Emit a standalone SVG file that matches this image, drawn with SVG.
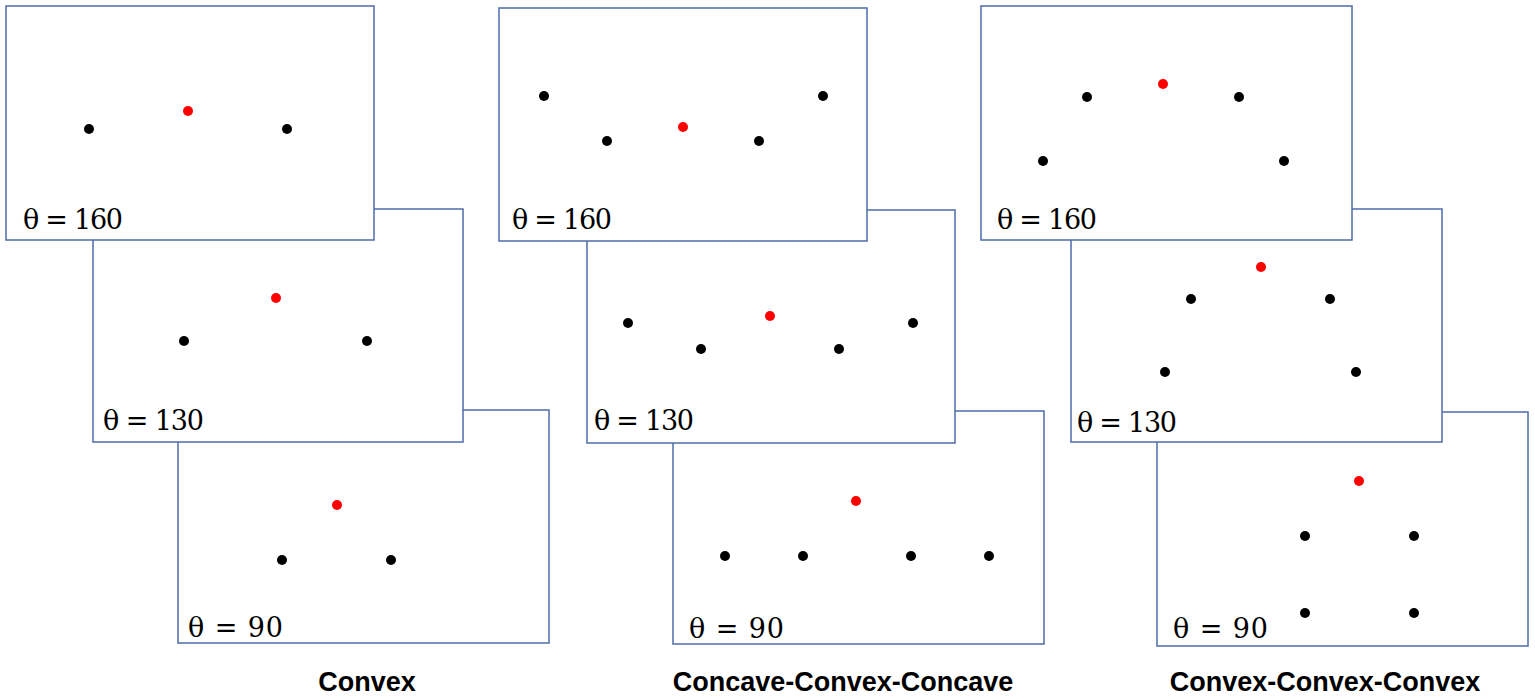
<svg xmlns="http://www.w3.org/2000/svg" width="1535" height="699" viewBox="0 0 1535 699">
<style>
.box{fill:#fff;stroke:#4e6cab;stroke-width:1.5}
.k{fill:#000}
.r{fill:#f00}
.th{font-family:"DejaVu Serif","Liberation Serif",serif;font-size:27px;fill:#000}
.tt{font-family:"Liberation Sans",Arial,sans-serif;font-size:27px;font-weight:bold;fill:#000;text-anchor:middle}
</style>
<rect width="1535" height="699" fill="#fff"/>
<g id="convex">
<g id="a3"><rect class="box" x="178" y="410" width="371" height="233"/>
<circle class="r" cx="337" cy="505" r="5"/><circle class="k" cx="282" cy="560" r="5"/><circle class="k" cx="391" cy="560" r="5"/>
<text class="th" x="188" y="637" textLength="95">θ = 90</text></g>
<g id="a2"><rect class="box" x="93" y="209" width="370" height="233"/>
<circle class="r" cx="276" cy="298" r="5"/><circle class="k" cx="184" cy="341" r="5"/><circle class="k" cx="367" cy="341" r="5"/>
<text class="th" x="103" y="430" textLength="101">θ = 130</text></g>
<g id="a1"><rect class="box" x="6" y="6" width="368" height="234"/>
<circle class="r" cx="188" cy="111" r="5"/><circle class="k" cx="89" cy="129" r="5"/><circle class="k" cx="287" cy="129" r="5"/>
<text class="th" x="23" y="229" textLength="100">θ = 160</text></g>
<text class="tt" x="367" y="691">Convex</text>
</g>
<g id="ccc">
<g id="b3"><rect class="box" x="673" y="411" width="371" height="233"/>
<circle class="r" cx="856" cy="501" r="5"/><circle class="k" cx="725" cy="556" r="5"/><circle class="k" cx="803" cy="556" r="5"/><circle class="k" cx="911" cy="556" r="5"/><circle class="k" cx="989" cy="556" r="5"/>
<text class="th" x="689" y="638" textLength="95">θ = 90</text></g>
<g id="b2"><rect class="box" x="587" y="210" width="368" height="233"/>
<circle class="r" cx="770" cy="316" r="5"/><circle class="k" cx="628" cy="323" r="5"/><circle class="k" cx="701" cy="349" r="5"/><circle class="k" cx="839" cy="349" r="5"/><circle class="k" cx="913" cy="323" r="5"/>
<text class="th" x="594" y="430" textLength="100">θ = 130</text></g>
<g id="b1"><rect class="box" x="499" y="8" width="368" height="233"/>
<circle class="r" cx="683" cy="127" r="5"/><circle class="k" cx="544" cy="96" r="5"/><circle class="k" cx="607" cy="141" r="5"/><circle class="k" cx="759" cy="141" r="5"/><circle class="k" cx="823" cy="96" r="5"/>
<text class="th" x="512" y="229" textLength="100">θ = 160</text></g>
<text class="tt" x="843" y="691">Concave-Convex-Concave</text>
</g>
<g id="cvx3">
<g id="c3"><rect class="box" x="1157" y="412" width="371" height="234"/>
<circle class="r" cx="1359" cy="481" r="5"/><circle class="k" cx="1305" cy="536" r="5"/><circle class="k" cx="1414" cy="536" r="5"/><circle class="k" cx="1305" cy="613" r="5"/><circle class="k" cx="1414" cy="613" r="5"/>
<text class="th" x="1173" y="638" textLength="95">θ = 90</text></g>
<g id="c2"><rect class="box" x="1071" y="209" width="371" height="233"/>
<circle class="r" cx="1261" cy="267" r="5"/><circle class="k" cx="1191" cy="299" r="5"/><circle class="k" cx="1330" cy="299" r="5"/><circle class="k" cx="1165" cy="372" r="5"/><circle class="k" cx="1356" cy="372" r="5"/>
<text class="th" x="1077" y="432" textLength="100">θ = 130</text></g>
<g id="c1"><rect class="box" x="981" y="6" width="371" height="234"/>
<circle class="r" cx="1163" cy="84" r="5"/><circle class="k" cx="1087" cy="97" r="5"/><circle class="k" cx="1239" cy="97" r="5"/><circle class="k" cx="1043" cy="161" r="5"/><circle class="k" cx="1284" cy="161" r="5"/>
<text class="th" x="997" y="229" textLength="100">θ = 160</text></g>
<text class="tt" x="1325" y="691">Convex-Convex-Convex</text>
</g>
<g id="connectors"/>
</svg>
